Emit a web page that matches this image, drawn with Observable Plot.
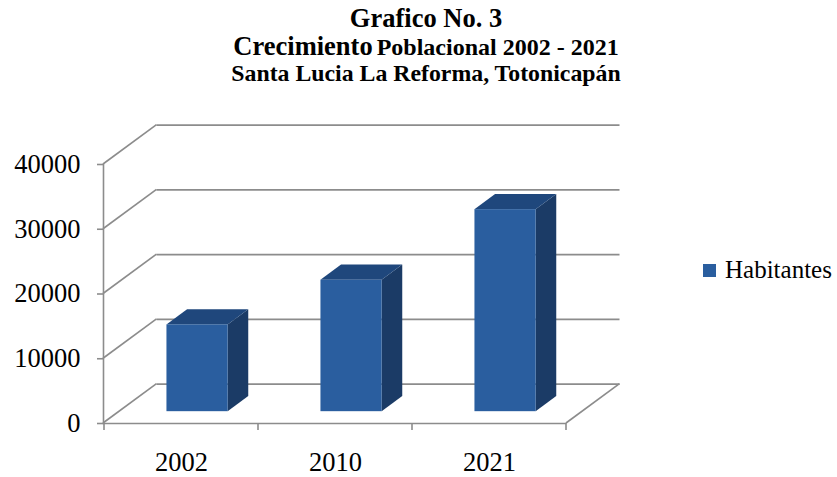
<!DOCTYPE html>
<html><head><meta charset="utf-8">
<script src="https://cdn.jsdelivr.net/npm/d3@7"></script>
<script src="https://cdn.jsdelivr.net/npm/@observablehq/plot@0.6"></script>
<style>
body{margin:0;background:#fff;}
#wrap{position:relative;width:837px;height:477px;font-family:"Liberation Serif",Tinos,"Times New Roman",Times,"Nimbus Roman","Noto Serif","DejaVu Serif",FreeSerif,serif;color:#000;}
#title{position:absolute;left:0;top:0;width:852px;text-align:center;font-weight:bold;}
#title div{height:27.5px;line-height:27.5px;white-space:nowrap;}
#title .l1{font-size:26.5px;padding-top:5px;}
#title .l2a{font-size:26.5px;}
#title .l2b{font-size:24px;}
#title .l3{font-size:23.8px;}
#legend{position:absolute;left:703px;top:256px;font-size:25px;line-height:28px;white-space:nowrap;}
#legend .sw{display:inline-block;width:13px;height:13px;margin-right:9px;vertical-align:1px;}
#chart{position:absolute;left:0;top:0;}
</style></head><body>
<div id="wrap">
<div id="chart"></div>
<div id="title"><div class="l1">Grafico No. 3</div><div><span class="l2a">Crecimiento</span> <span class="l2b">Poblacional 2002 - 2021</span></div><div class="l3">Santa Lucia La Reforma, Totonicapán</div></div>
<div id="legend"></div>
</div>
<script>
// ---- data ----
const years = ["2002", "2010", "2021"];
const habitantes = [13400, 20300, 31200];
const yTicks = [0, 10000, 20000, 30000, 40000];
const seriesName = "Habitantes";

// ---- style ----
const FONT = "'Liberation Serif', Tinos, 'Times New Roman', Times, 'Nimbus Roman', 'Noto Serif', 'DejaVu Serif', FreeSerif, serif";
const FRONT = "#2a5e9f", TOP = "#1f477c", SIDE = "#1b3b66", GRID = "#8c8c8c";
const DX = 53.5, DY = -39.4;      // full depth offset of the 3D box (px)
const F0 = 0.3, F1 = 0.685;       // bar depth (fraction of box depth)
const INSET = 46.4;

const data = years.map((year, i) => ({year, value: habitantes[i]}));

function bandwidth(scales, dims) {
  const b = scales.x && scales.x.bandwidth;
  const v = typeof b === "function" ? b() : b;
  return Number.isFinite(v) ? v : (dims.width - dims.marginLeft - dims.marginRight) / years.length;
}

function faceMark(which, fill) {
  return Plot.barY(data, {
    x: "year", y: "value", fill,
    render(index, scales, values, dims) {
      const g = d3.create("svg:g");
      const bw = bandwidth(scales, dims);
      for (const i of index) {
        const d = data[i];
        const xl = scales.x(d.year) + INSET, xr = scales.x(d.year) + bw - INSET;
        const yb = scales.y(0), yt = scales.y(d.value);
        const fx = F0 * DX, fy = F0 * DY, bx = F1 * DX, by = F1 * DY;
        const pts = which === "top"
          ? [[xl + fx, yt + fy], [xr + fx, yt + fy], [xr + bx, yt + by], [xl + bx, yt + by]]
          : [[xr + fx, yt + fy], [xr + bx, yt + by], [xr + bx, yb + by], [xr + fx, yb + fy]];
        g.append("path").attr("d", "M" + pts.map(p => p.join(",")).join("L") + "Z").attr("fill", fill);
      }
      return g.node();
    }
  });
}

const wallMark = Plot.ruleY(yTicks, {
  y: d => d,
  render(index, scales, values, dims) {
    const g = d3.create("svg:g").attr("stroke", GRID).attr("stroke-width", 1.6).attr("fill", "none");
    const x0 = dims.marginLeft, xr = dims.width - dims.marginRight;
    for (const i of index) {
      const y = scales.y(yTicks[i]);
      g.append("line").attr("x1", x0).attr("y1", y).attr("x2", x0 + DX).attr("y2", y + DY);
    }
    const y0 = scales.y(0);
    g.append("line").attr("x1", xr).attr("y1", y0).attr("x2", xr + DX).attr("y2", y0 + DY);
    return g.node();
  }
});

const xEdgeTicks = Plot.ruleY([0], {
  render(index, scales, values, dims) {
    const g = d3.create("svg:g").attr("stroke", GRID).attr("stroke-width", 1.6);
    const y0 = scales.y(0);
    const bw = bandwidth(scales, dims);
    const edges = years.map(y => scales.x(y)).concat([scales.x(years[years.length - 1]) + bw]);
    for (const x of edges) g.append("line").attr("x1", x).attr("x2", x).attr("y1", y0).attr("y2", y0 + 7);
    return g.node();
  }
});

const chart = Plot.plot({
  width: 837, height: 477,
  marginLeft: 103, marginRight: 271, marginTop: 164, marginBottom: 54,
  style: {fontFamily: FONT, color: "#000", background: "#fff"},
  x: {domain: years, padding: 0},
  y: {domain: [0, 40000]},
  marks: [
    Plot.ruleY(yTicks, {dx: DX, dy: DY, stroke: GRID, strokeWidth: 1.6}),
    wallMark,
    faceMark("side", SIDE),
    faceMark("top", TOP),
    Plot.barY(data, {x: "year", y: "value", fill: FRONT, insetLeft: INSET, insetRight: INSET, dx: F0 * DX, dy: F0 * DY}),
    Plot.frame({anchor: "left", stroke: GRID, strokeWidth: 1.6}),
    Plot.ruleY([0], {stroke: GRID, strokeWidth: 1.6}),
    xEdgeTicks,
    Plot.axisY({ticks: yTicks, tickSize: 6, tickPadding: 17, stroke: GRID, strokeWidth: 1.6, fill: "#000", fontSize: 26.5, fontFamily: FONT, tickFormat: d => String(d), label: null}),
    Plot.axisX({tickSize: 0, tickPadding: 29, fill: "#000", fontSize: 26.5, fontFamily: FONT, label: null})
  ]
});
document.getElementById("chart").appendChild(chart);

const lg = document.getElementById("legend");
lg.innerHTML = `<span class="sw" style="background:${FRONT}"></span>${seriesName}`;
</script>
</body></html>
